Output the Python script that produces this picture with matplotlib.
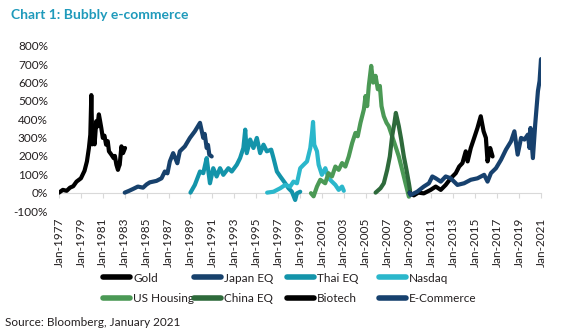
import matplotlib
matplotlib.use("Agg")
import matplotlib.pyplot as plt
from matplotlib.lines import Line2D

plt.rcParams['font.family'] = ['Lato', 'DejaVu Sans']

# Bubble episodes, indexed to the start of each run (% gain), time in decimal years
gold_t = [1977.0, 1977.35, 1977.7, 1978.0, 1978.3, 1978.6, 1979.0, 1979.33, 1979.55, 1979.73,
          1979.86, 1979.95, 1980.04, 1980.15, 1980.25, 1980.4, 1980.5, 1980.64, 1980.75, 1980.86,
          1981.0, 1981.15, 1981.3, 1981.45, 1981.56, 1981.78, 1981.99, 1982.1, 1982.24, 1982.38,
          1982.46, 1982.54, 1982.7, 1982.84, 1983.03]
gold_v = [0, 15, 10, 27, 35, 60, 78, 119, 170, 243,
          316, 531, 263, 330, 263, 389, 360, 426, 390, 352,
          298, 310, 261, 280, 225, 207, 188, 200, 152, 124,
          140, 152, 252, 215, 243]

japan_t = [1983.0, 1983.4, 1983.76, 1984.2, 1984.67, 1985.0, 1985.29, 1985.9, 1986.36, 1986.66,
           1986.9, 1987.12, 1987.42, 1987.6, 1987.8, 1988.03, 1988.49, 1988.95, 1989.4, 1989.87,
           1990.17, 1990.3, 1990.48, 1990.6, 1990.72, 1990.94]
japan_v = [0, 10, 20, 33, 27, 45, 56, 64, 78, 115,
           105, 170, 215, 190, 160, 225, 252, 298, 334, 380,
           298, 320, 243, 260, 207, 197]

thai_t = [1989.0, 1989.4, 1989.87, 1990.17, 1990.48, 1990.6, 1990.78, 1991.08, 1991.39, 1991.7,
          1992.0, 1992.46, 1992.77, 1993.23, 1993.53, 1993.83, 1994.0, 1994.14, 1994.45, 1994.75,
          1995.06, 1995.36, 1995.67, 1995.97, 1996.37, 1996.58, 1996.89, 1997.2, 1997.65, 1997.95,
          1998.26, 1998.56, 1998.72, 1999.02]
thai_v = [0, 42, 115, 106, 188, 133, 51, 133, 88, 133,
          97, 133, 115, 152, 188, 243, 343, 215, 289, 243,
          298, 215, 261, 225, 234, 188, 115, 88, 51, 24,
          5, -40, -4, 5]

nasdaq_t = [1996.0, 1996.58, 1997.2, 1997.65, 1998.1, 1998.4, 1998.72, 1999.02, 1999.33, 1999.64,
            1999.94, 2000.1, 2000.19, 2000.3, 2000.55, 2000.7, 2001.0, 2001.31, 2001.62, 2001.92,
            2002.23, 2002.53, 2002.84, 2003.0]
nasdaq_v = [0, 5, 24, 42, 33, 60, 51, 133, 152, 170,
            243, 325, 385, 261, 225, 152, 97, 133, 78, 60,
            42, 15, 33, 10]

housing_t = [2000.0, 2000.24, 2000.55, 2000.85, 2001.3, 2001.6, 2001.92, 2002.23, 2002.53, 2002.84,
             2003.14, 2003.45, 2003.76, 2004.06, 2004.27, 2004.52, 2004.83, 2004.98, 2005.13, 2005.28,
             2005.5, 2005.68, 2005.9, 2006.1, 2006.29, 2006.44, 2006.65, 2006.9, 2007.1, 2007.41,
             2007.72, 2008.02, 2008.33, 2008.63, 2008.94]
housing_v = [-3, -20, 33, 70, 51, 106, 88, 142, 124, 161,
             142, 197, 270, 325, 307, 380, 453, 526, 471, 581,
             690, 599, 636, 563, 581, 471, 416, 380, 362, 307,
             252, 197, 124, 51, -22]

china_t = [2005.9, 2006.35, 2006.65, 2006.96, 2007.2, 2007.41, 2007.62, 2007.75, 2008.02, 2008.24,
           2008.48, 2008.72, 2008.94, 2009.05]
china_v = [0, 24, 51, 124, 197, 307, 380, 434, 362, 289,
           197, 124, 51, 10]

biotech_t = [2009.0, 2009.39, 2009.8, 2010.3, 2010.93, 2011.39, 2011.85, 2012.3, 2012.76, 2013.22,
             2013.53, 2013.83, 2014.13, 2014.3, 2014.59, 2014.9, 2015.2, 2015.5, 2015.76, 2015.97,
             2016.12, 2016.36, 2016.58]
biotech_v = [0, -15, 0, -4, 15, 33, 15, 42, 78, 106,
             142, 161, 225, 170, 243, 298, 352, 416, 334, 298,
             170, 243, 197]

ecom_t = [2009.0, 2009.1, 2009.7, 2010.3, 2010.77, 2011.08, 2011.39, 2011.85, 2012.3, 2012.76,
          2013.37, 2013.98, 2014.59, 2015.2, 2015.81, 2016.12, 2016.43, 2016.89, 2017.35, 2017.8,
          2018.26, 2018.57, 2018.87, 2019.18, 2019.49, 2019.8, 2019.95, 2020.04, 2020.26, 2020.47,
          2020.72, 2020.87, 2021.0]
ecom_v = [0, -13, 5, 33, 51, 88, 78, 60, 88, 78,
          42, 51, 70, 78, 97, 60, 106, 133, 179, 234,
          279, 334, 207, 298, 289, 316, 243, 352, 188, 371,
          553, 608, 727]

names = ['Gold', 'Japan EQ', 'Thai EQ', 'Nasdaq', 'US Housing', 'China EQ', 'Biotech', 'E-Commerce']
colors = ['#000000', '#17416c', '#1394aa', '#2bb7cb', '#4b9955', '#2e6a3b', '#000000', '#17416e']
series = [(gold_t, gold_v), (japan_t, japan_v), (thai_t, thai_v), (nasdaq_t, nasdaq_v),
          (housing_t, housing_v), (china_t, china_v), (biotech_t, biotech_v), (ecom_t, ecom_v)]

tick_years = list(range(1977, 2022, 2))
tick_labels = ['Jan-%d' % y for y in tick_years]
y_ticks = list(range(-100, 801, 100))

text_col = '#231f20'
W, H = 581, 333
fig = plt.figure(figsize=(W / 100, H / 100), dpi=100)
ax = fig.add_axes([59 / W, (H - 211) / H, (541 - 59) / W, (211 - 45.7) / H])

for (t, v), c in zip(series, colors):
    ax.plot(t, v, color=c, lw=3.0, solid_joinstyle='round', solid_capstyle='round')

ax.set_xlim(1977, 2021)
ax.set_ylim(-100, 800)

# zero line carries the tick marks, labels sit below the plot area
for s in ['top', 'right', 'left']:
    ax.spines[s].set_visible(False)
ax.spines['bottom'].set_position(('data', 0))
ax.spines['bottom'].set_color('#d9d9d9')
ax.spines['bottom'].set_zorder(0)
ax.set_xticks(tick_years)
ax.tick_params(axis='x', length=3.5, color='#d9d9d9', labelbottom=False)
ax.set_yticks(y_ticks)
ax.set_yticklabels(['%d%%' % y for y in y_ticks])
ax.tick_params(axis='y', length=0, pad=8, labelsize=8.5, labelcolor=text_col)

sec = ax.secondary_xaxis('bottom')
sec.set_xticks(tick_years)
sec.set_xticklabels(tick_labels)
sec.spines['bottom'].set_visible(False)
sec.tick_params(length=0, pad=5, labelsize=8.5, labelrotation=90, labelcolor=text_col)

# legend: two rows, four fixed-width columns
col_x = [103, 194, 286.5, 379]
for k, x in enumerate(col_x):
    handles = [Line2D([], [], color=colors[i], lw=4, solid_capstyle='round') for i in (k, k + 4)]
    fig.legend(handles, [names[k], names[k + 4]], loc='upper left',
               bbox_to_anchor=(x / W, 1 - 272.5 / H), frameon=False, fontsize=8.5,
               handlelength=2.3, handletextpad=0.25, labelspacing=0.8,
               borderpad=0, borderaxespad=0, labelcolor=text_col)

fig.text(11 / W, 1 - 15 / H, 'Chart 1: Bubbly e-commerce', fontsize=10, fontweight='bold',
         color='#1f9abb', va='center')
fig.text(5 / W, 1 - 323 / H, 'Source: Bloomberg, January 2021', fontsize=8.5,
         color=text_col, va='center')

fig.savefig('out.png', dpi=100)
